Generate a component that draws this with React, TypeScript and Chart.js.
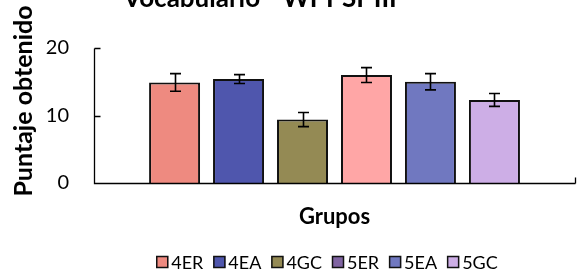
import React, { useEffect, useRef } from "react";
import { Chart, registerables } from "chart.js";

Chart.register(...registerables);

const groups = ["4ER", "4EA", "4GC", "5ER", "5EA", "5GC"];
const means = [14.9, 15.4, 9.4, 16.0, 15.0, 12.3];
const errors = [1.3, 0.65, 1.05, 1.1, 1.2, 0.95];
const yTicks = [0, 10, 20];
const titleText = "Vocabulario - WPPSI-III";
const yTitle = "Puntaje obtenido";
const xTitle = "Grupos";

const barColors = ["#EE8A80", "#4F56AD", "#948A54", "#FFA6A6", "#7078C0", "#CDAEE6"];
const legendColors = ["#EE8A80", "#4F56AD", "#948A54", "#8064A2", "#7078C0", "#CDAEE6"];
const FONT = "Lato, 'Open Sans', sans-serif";

const customDraw = {
  id: "customDraw",
  afterDatasetsDraw(chart: any) {
    const ctx = chart.ctx;
    const x = chart.scales.x;
    const y = chart.scales.y;
    ctx.save();
    // error bars
    ctx.strokeStyle = "#000";
    ctx.lineWidth = 1.6;
    chart.data.datasets.forEach((ds: any, i: number) => {
      const meta = chart.getDatasetMeta(i);
      const el = meta.data[0];
      if (!el) return;
      const cx = Math.round(el.x) + 0.5;
      const top = y.getPixelForValue(means[i] + errors[i]);
      const bot = y.getPixelForValue(means[i] - errors[i]);
      const cap = 5.5;
      ctx.beginPath();
      ctx.moveTo(cx, top);
      ctx.lineTo(cx, bot);
      ctx.moveTo(cx - cap, top);
      ctx.lineTo(cx + cap, top);
      ctx.moveTo(cx - cap, bot);
      ctx.lineTo(cx + cap, bot);
      ctx.stroke();
    });
    // axes
    const left = Math.round(x.left) + 0.5;
    const right = Math.round(x.right) + 0.5;
    const bottom = Math.round(y.bottom) + 0.5;
    const topPx = Math.round(y.top) + 0.5;
    ctx.lineWidth = 1.3;
    ctx.beginPath();
    ctx.moveTo(left, topPx);
    ctx.lineTo(left, bottom);
    ctx.lineTo(right, bottom);
    ctx.moveTo(right, bottom);
    ctx.lineTo(right, bottom - 6);
    yTicks.forEach((t) => {
      const py = Math.round(y.getPixelForValue(t)) + 0.5;
      ctx.moveTo(left, py);
      ctx.lineTo(left + 6, py);
    });
    ctx.stroke();
    // title
    ctx.fillStyle = "#000";
    ctx.textAlign = "center";
    ctx.textBaseline = "alphabetic";
    ctx.font = `bold 26px ${FONT}`;
    ctx.fillText(titleText, 260, 7);
    // x title
    ctx.font = `bold 22px ${FONT}`;
    ctx.textBaseline = "middle";
    ctx.fillText(xTitle, (x.left + x.right) / 2, 217);
    // y title
    ctx.save();
    ctx.translate(24, 101);
    ctx.rotate(-Math.PI / 2);
    ctx.font = `bold 25px ${FONT}`;
    ctx.textBaseline = "middle";
    ctx.fillText(yTitle, 0, 0);
    ctx.restore();
    // legend
    ctx.font = `18px ${FONT}`;
    ctx.textAlign = "left";
    ctx.textBaseline = "middle";
    const box = 12;
    const gap = 3;
    const spacing = 10;
    const widths = groups.map((g) => box + gap + ctx.measureText(g).width);
    const total = widths.reduce((a, b) => a + b, 0) + spacing * (groups.length - 1);
    let lx = 327 - total / 2;
    const ly = 262;
    groups.forEach((g, i) => {
      ctx.fillStyle = legendColors[i];
      ctx.fillRect(lx, ly - box / 2, box, box);
      ctx.strokeStyle = "#111";
      ctx.lineWidth = 1.5;
      ctx.strokeRect(lx + 0.5, ly - box / 2 + 0.5, box - 1, box - 1);
      ctx.fillStyle = "#000";
      ctx.fillText(g, lx + box + gap, ly + 1);
      lx += widths[i] + spacing;
    });
    ctx.restore();
  },
};

export default function App() {
  const ref = useRef<HTMLCanvasElement>(null);
  useEffect(() => {
    if (!ref.current) return;
    const chart = new Chart(ref.current, {
      type: "bar",
      data: {
        labels: [""],
        datasets: groups.map((g, i) => ({
          label: g,
          data: [means[i]],
          backgroundColor: barColors[i],
          borderColor: "#111",
          borderWidth: 2,
          categoryPercentage: 0.798,
          barPercentage: 0.797,
        })),
      },
      options: {
        responsive: false,
        animation: false,
        devicePixelRatio: 1,
        layout: { padding: { top: 48, right: 7, left: 0, bottom: 0 } },
        plugins: {
          legend: { display: false },
          tooltip: { enabled: false },
          title: { display: false },
        },
        scales: {
          x: {
            grid: { display: false },
            border: { display: false },
            ticks: { display: false },
            afterFit: (s: any) => {
              s.height = 96;
            },
          },
          y: {
            min: 0,
            max: 20,
            grid: { display: false },
            border: { display: false },
            ticks: {
              stepSize: 10,
              color: "#000",
              padding: 17,
              font: { family: FONT, size: 20 },
            },
            afterFit: (s: any) => {
              s.width = 94;
            },
          },
        },
      },
      plugins: [customDraw],
    });
    return () => chart.destroy();
  }, []);
  return (
    <div style={{ position: "absolute", left: 0, top: 0, width: 582, height: 279, background: "#fff" }}>
      <canvas ref={ref} width={582} height={279} />
    </div>
  );
}
